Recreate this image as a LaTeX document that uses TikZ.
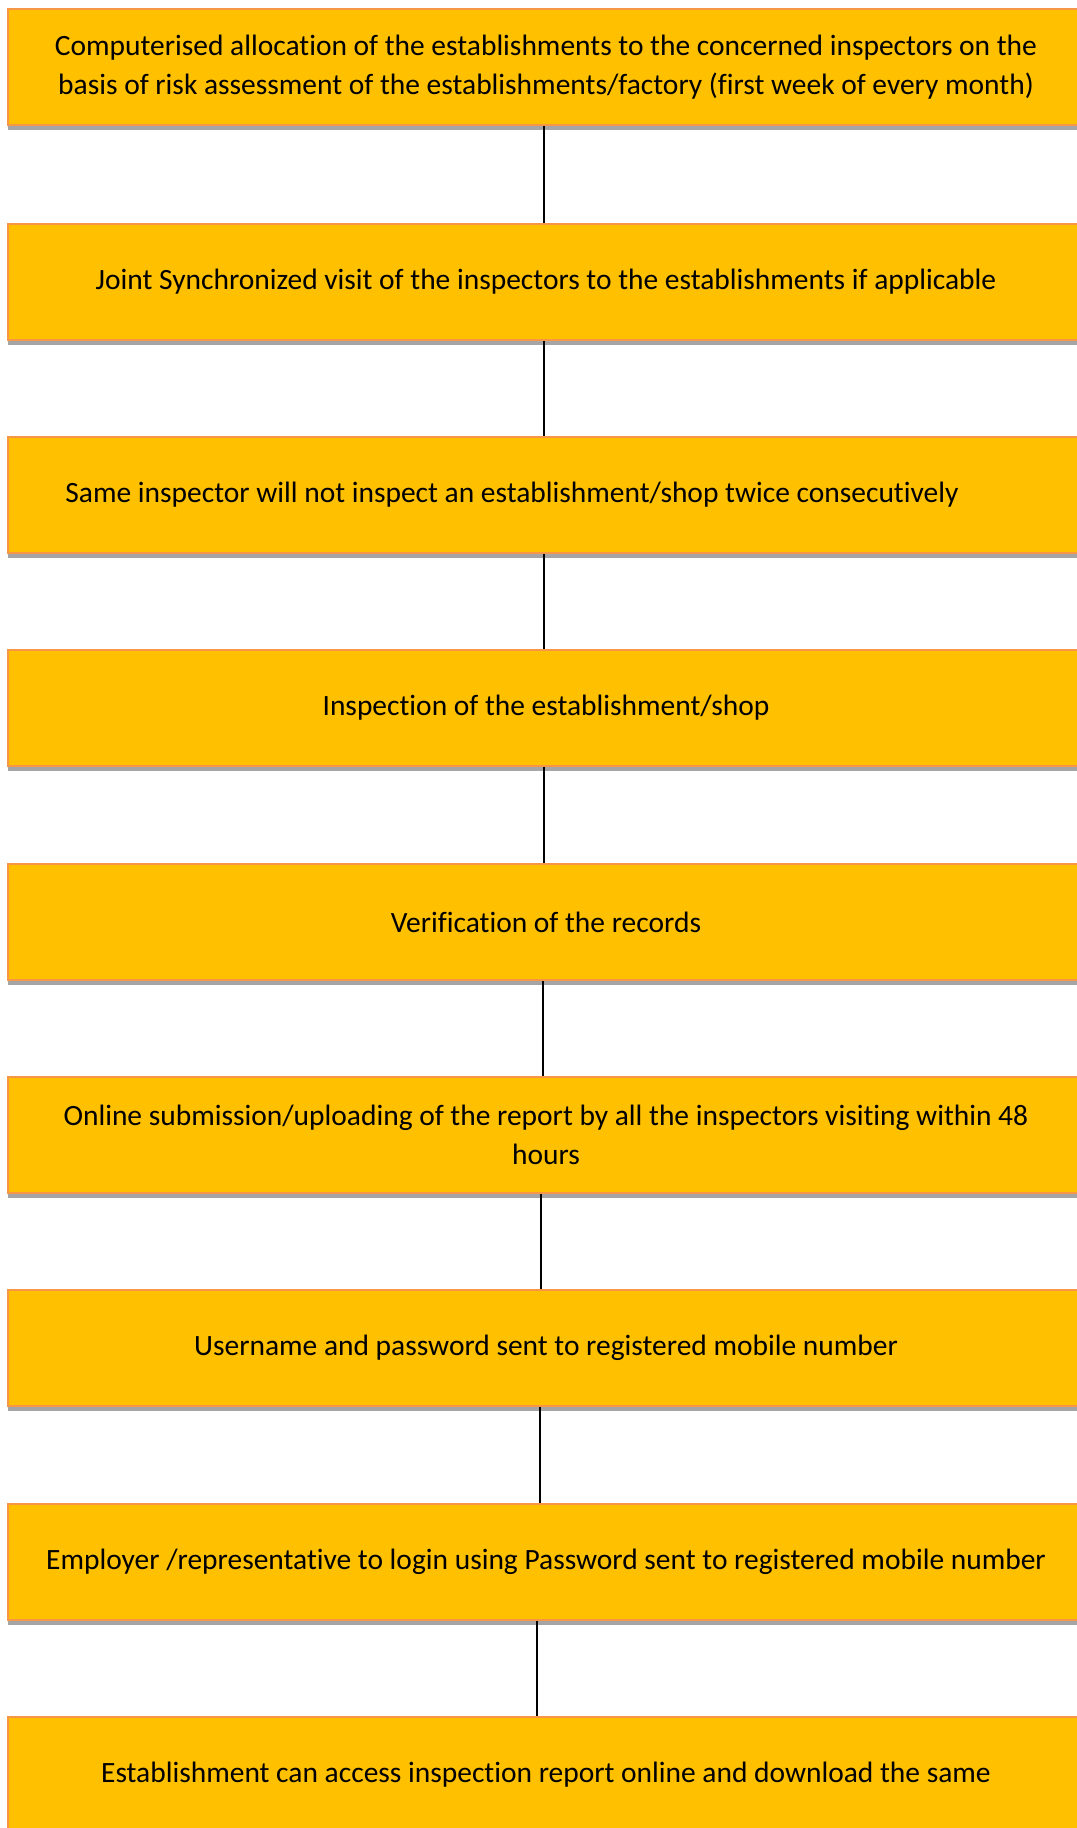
\documentclass[tikz,border=0pt]{standalone}
\usepackage{fontspec}
\setmainfont{Carlito}[Ligatures=NoCommon]
\usetikzlibrary{shadows}
\definecolor{boxfill}{HTML}{FFC000}
\definecolor{boxline}{HTML}{F79646}
\definecolor{shadowgray}{HTML}{A5A5A5}
\begin{document}
\begin{tikzpicture}[x=0.75pt,y=-0.75pt,
  stepbox/.style={rectangle, fill=boxfill, draw=boxline, line width=1.2pt,
    minimum width=807pt, minimum height=87pt, inner sep=0pt, align=center,
    font=\fontsize{22.1}{29.5}\selectfont,
    drop shadow={shadow xshift=0pt, shadow yshift=-3.75pt, fill=shadowgray, opacity=1}},
  link/.style={draw=black, line width=1.1pt}]
\useasboundingbox (0,0) rectangle (1076,1828);
\node[stepbox] (b1) at (546,67) {Computerised allocation of the establishments to the concerned inspectors on the\\basis of risk assessment of the establishments/factory (first week of every month)};
\node[stepbox] (b2) at (546,282) {Joint Synchronized visit of the inspectors to the establishments if applicable};
\node[stepbox] (b3) at (546,495) {Same inspector will not inspect an establishment/shop twice consecutively\hspace*{51pt}};
\node[stepbox] (b4) at (546,708) {Inspection of the establishment/shop};
\node[stepbox] (b5) at (546,922) {Verification of the records};
\node[stepbox] (b6) at (546,1135) {Online submission/uploading of the report by all the inspectors visiting within 48\\hours};
\node[stepbox] (b7) at (546,1348) {Username and password sent to registered mobile number};
\node[stepbox] (b8) at (546,1562) {Employer /representative to login using Password sent to registered mobile number};
\node[stepbox] (b9) at (546,1775) {Establishment can access inspection report online and download the same};
\draw[link] ([xshift=-1.5pt]b1.south) -- ([xshift=-1.5pt]b2.north);
\draw[link] ([xshift=-1.5pt]b2.south) -- ([xshift=-1.5pt]b3.north);
\draw[link] ([xshift=-1.5pt]b3.south) -- ([xshift=-1.5pt]b4.north);
\draw[link] ([xshift=-1.5pt]b4.south) -- ([xshift=-1.5pt]b5.north);
\draw[link] ([xshift=-2.25pt]b5.south) -- ([xshift=-2.25pt]b6.north);
\draw[link] ([xshift=-3.75pt]b6.south) -- ([xshift=-3.75pt]b7.north);
\draw[link] ([xshift=-4.5pt]b7.south) -- ([xshift=-4.5pt]b8.north);
\draw[link] ([xshift=-6.75pt]b8.south) -- ([xshift=-6.75pt]b9.north);
\end{tikzpicture}
\end{document}
